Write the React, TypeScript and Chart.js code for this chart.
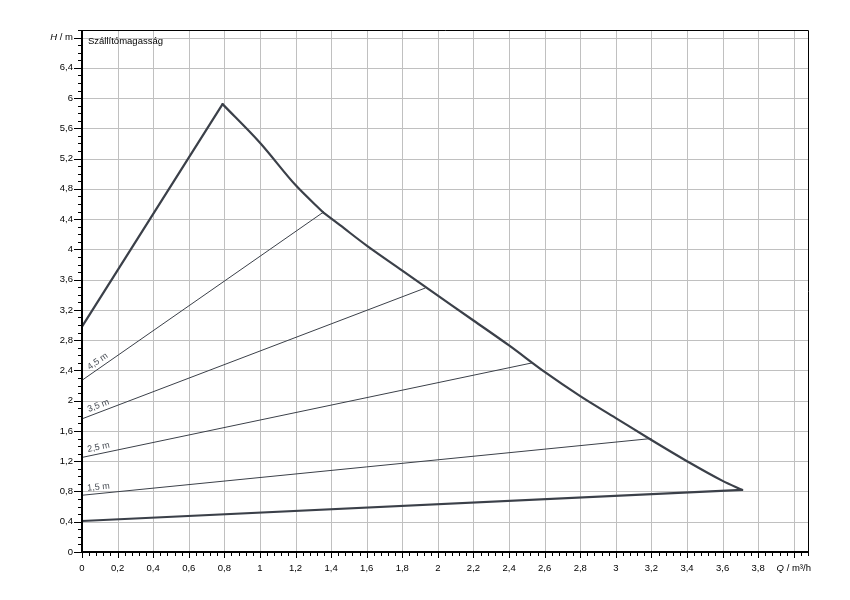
import React, { useEffect, useRef } from 'react';
import { Chart, registerables } from 'chart.js';

Chart.register(...registerables);

// ---- data ----
const riseQ = [0, 0.79];
const riseH = [2.98, 5.92];
const powerCurveQ = [0.79, 1.0, 1.2, 1.355];
const powerCurveH = [5.92, 5.41, 4.85, 4.49];
const maxCurveQ = [1.355, 1.45, 1.6, 1.8, 2.0, 2.2, 2.4, 2.6, 2.8, 3.0, 3.2, 3.4, 3.6, 3.71];
const maxCurveH = [4.49, 4.32, 4.05, 3.72, 3.39, 3.06, 2.73, 2.38, 2.06, 1.77, 1.48, 1.2, 0.94, 0.82];
const minCurveQ = [0, 3.71];
const minCurveH = [0.41, 0.82];

const setpointLabels = ['4,5 m', '3,5 m', '2,5 m', '1,5 m'];
const setpointQ = [[0, 1.355], [0, 1.93], [0, 2.53], [0, 3.2]];
const setpointH = [[2.27, 4.49], [1.76, 3.49], [1.25, 2.5], [0.75, 1.5]];

const xMax = 4.08;
const yMax = 6.9;
const xMajorStep = 0.2;
const xMinorStep = 0.04;
const yMajorStep = 0.4;
const yMinorStep = 0.1;
const xAxisTitleValue = 4.0;
const yAxisTitleValue = 6.8;

const curveTitle = 'Szállítómagasság';
const FONT = "'Liberation Sans', Arial, sans-serif";
const LINE_COLOR = '#3b4049';

const fmt = (v: number) => String(Number(v.toFixed(2))).replace('.', ',');

const pts = (qs: number[], hs: number[]) => qs.map((q, i) => ({ x: q, y: hs[i] }));

const framePlugin = {
  id: 'frame',
  beforeDatasetsDraw(chart: any) {
    const { ctx, chartArea: a, scales } = chart;
    const x = scales.x, y = scales.y;
    ctx.save();
    ctx.strokeStyle = '#c0c0c0';
    ctx.lineWidth = 1;
    ctx.beginPath();
    for (let i = 1; i * xMajorStep <= xMax + 1e-9; i++) {
      const px = Math.round(x.getPixelForValue(i * xMajorStep)) + 0.5;
      ctx.moveTo(px, a.top);
      ctx.lineTo(px, a.bottom);
    }
    for (let i = 1; i * yMajorStep <= yMax + 1e-9; i++) {
      const py = Math.round(y.getPixelForValue(i * yMajorStep)) + 0.5;
      ctx.moveTo(a.left, py);
      ctx.lineTo(a.right, py);
    }
    ctx.stroke();
    ctx.restore();
  },
  afterDraw(chart: any) {
    const { ctx, chartArea: a, scales } = chart;
    const x = scales.x, y = scales.y;
    ctx.save();
    // border top/right
    ctx.strokeStyle = '#000';
    ctx.lineWidth = 1;
    ctx.beginPath();
    ctx.moveTo(a.left, Math.round(a.top) + 0.5);
    ctx.lineTo(Math.round(a.right) + 0.5, Math.round(a.top) + 0.5);
    ctx.lineTo(Math.round(a.right) + 0.5, a.bottom);
    ctx.stroke();
    // axes left/bottom
    ctx.lineWidth = 2;
    ctx.beginPath();
    ctx.moveTo(Math.round(a.left), a.top);
    ctx.lineTo(Math.round(a.left), Math.round(a.bottom));
    ctx.lineTo(a.right + 1, Math.round(a.bottom));
    ctx.stroke();

    // ticks
    ctx.lineWidth = 1;
    ctx.beginPath();
    const nxm = Math.round(xMax / xMinorStep);
    for (let i = 0; i <= nxm; i++) {
      const v = i * xMinorStep;
      const px = Math.round(x.getPixelForValue(v)) + 0.5;
      const major = Math.abs(v / xMajorStep - Math.round(v / xMajorStep)) < 1e-6;
      ctx.moveTo(px, Math.round(a.bottom));
      ctx.lineTo(px, Math.round(a.bottom) + (major ? 6 : 4));
    }
    const nym = Math.round(yMax / yMinorStep);
    for (let i = 0; i <= nym; i++) {
      const v = i * yMinorStep;
      const py = Math.round(y.getPixelForValue(v)) + 0.5;
      const major = Math.abs(v / yMajorStep - Math.round(v / yMajorStep)) < 1e-6;
      ctx.moveTo(Math.round(a.left), py);
      ctx.lineTo(Math.round(a.left) - (major ? 8 : 4), py);
    }
    ctx.stroke();

    // tick labels
    ctx.fillStyle = '#000';
    ctx.font = `9.5px ${FONT}`;
    ctx.textAlign = 'center';
    ctx.textBaseline = 'middle';
    for (let i = 0; i * xMajorStep <= xMax + 1e-9; i++) {
      const v = i * xMajorStep;
      if (Math.abs(v - xAxisTitleValue) < 1e-6) continue;
      ctx.fillText(fmt(v), x.getPixelForValue(v), a.bottom + 16);
    }
    ctx.textAlign = 'right';
    for (let i = 0; i * yMajorStep <= yMax + 1e-9; i++) {
      const v = i * yMajorStep;
      if (Math.abs(v - yAxisTitleValue) < 1e-6) continue;
      ctx.fillText(fmt(v), a.left - 9, y.getPixelForValue(v));
    }

    // axis titles (mixed italic)
    const drawMixed = (parts: [string, boolean][], cx: number, cy: number, align: 'center' | 'right') => {
      const widths = parts.map(([t, it]) => {
        ctx.font = `${it ? 'italic ' : ''}9.5px ${FONT}`;
        return ctx.measureText(t).width;
      });
      const total = widths.reduce((s, w) => s + w, 0);
      let sx = align === 'center' ? cx - total / 2 : cx - total;
      ctx.textAlign = 'left';
      parts.forEach(([t, it], k) => {
        ctx.font = `${it ? 'italic ' : ''}9.5px ${FONT}`;
        ctx.fillText(t, sx, cy);
        sx += widths[k];
      });
    };
    drawMixed([['Q', true], [' / m³/h', false]], x.getPixelForValue(xAxisTitleValue), a.bottom + 16, 'center');
    drawMixed([['H', true], [' / m', false]], a.left - 9, y.getPixelForValue(yAxisTitleValue), 'right');

    // curve title
    ctx.font = `9.5px ${FONT}`;
    ctx.textAlign = 'left';
    ctx.fillText(curveTitle, a.left + 6, a.top + 11);

    // setpoint labels
    ctx.fillStyle = '#454a52';
    ctx.font = `9px ${FONT}`;
    ctx.textBaseline = 'bottom';
    setpointLabels.forEach((lab, k) => {
      const [q0, q1] = setpointQ[k];
      const [h0, h1] = setpointH[k];
      const x0 = x.getPixelForValue(q0), y0 = y.getPixelForValue(h0);
      const x1 = x.getPixelForValue(q1), y1 = y.getPixelForValue(h1);
      const ang = Math.atan2(y1 - y0, x1 - x0);
      const startPx = a.left + 5 + 9 * Math.abs(Math.sin(ang));
      const qs = x.getValueForPixel(startPx);
      const hs = h0 + (h1 - h0) * (qs - q0) / (q1 - q0);
      ctx.save();
      ctx.translate(x.getPixelForValue(qs), y.getPixelForValue(hs));
      ctx.rotate(ang);
      ctx.fillText(lab, 0, -2);
      ctx.restore();
    });
    ctx.restore();
  },
};

export default function App() {
  const ref = useRef<HTMLCanvasElement | null>(null);
  useEffect(() => {
    if (!ref.current) return;
    const thick = {
      showLine: true,
      borderColor: LINE_COLOR,
      borderWidth: 2.2,
      pointRadius: 0,
      borderCapStyle: 'round',
      borderJoinStyle: 'round',
    };
    const datasets: any[] = setpointLabels.map((lab, k) => ({
      label: lab,
      data: pts(setpointQ[k], setpointH[k]),
      showLine: true,
      borderColor: LINE_COLOR,
      borderWidth: 1,
      pointRadius: 0,
      tension: 0,
    }));
    datasets.push({ ...thick, label: 'min', data: pts(minCurveQ, minCurveH), tension: 0 });
    datasets.push({ ...thick, label: 'rise', data: pts(riseQ, riseH), tension: 0 });
    datasets.push({ ...thick, label: 'power', data: pts(powerCurveQ, powerCurveH), cubicInterpolationMode: 'monotone' });
    datasets.push({ ...thick, label: 'max', data: pts(maxCurveQ, maxCurveH), cubicInterpolationMode: 'monotone' });
    const chart = new Chart(ref.current, {
      type: 'scatter',
      data: { datasets },
      options: {
        animation: false,
        responsive: false,
        devicePixelRatio: 1,
        layout: { padding: { left: 82, top: 30, right: 42, bottom: 48 } },
        plugins: { legend: { display: false }, tooltip: { enabled: false } },
        scales: {
          x: { type: 'linear', min: 0, max: xMax, display: false },
          y: { type: 'linear', min: 0, max: yMax, display: false },
        },
      },
      plugins: [framePlugin],
    });
    return () => chart.destroy();
  }, []);
  return (
    <div style={{ position: 'absolute', left: 0, top: 0, width: 850, height: 600, background: '#fff' }}>
      <canvas ref={ref} width={850} height={600} />
    </div>
  );
}
